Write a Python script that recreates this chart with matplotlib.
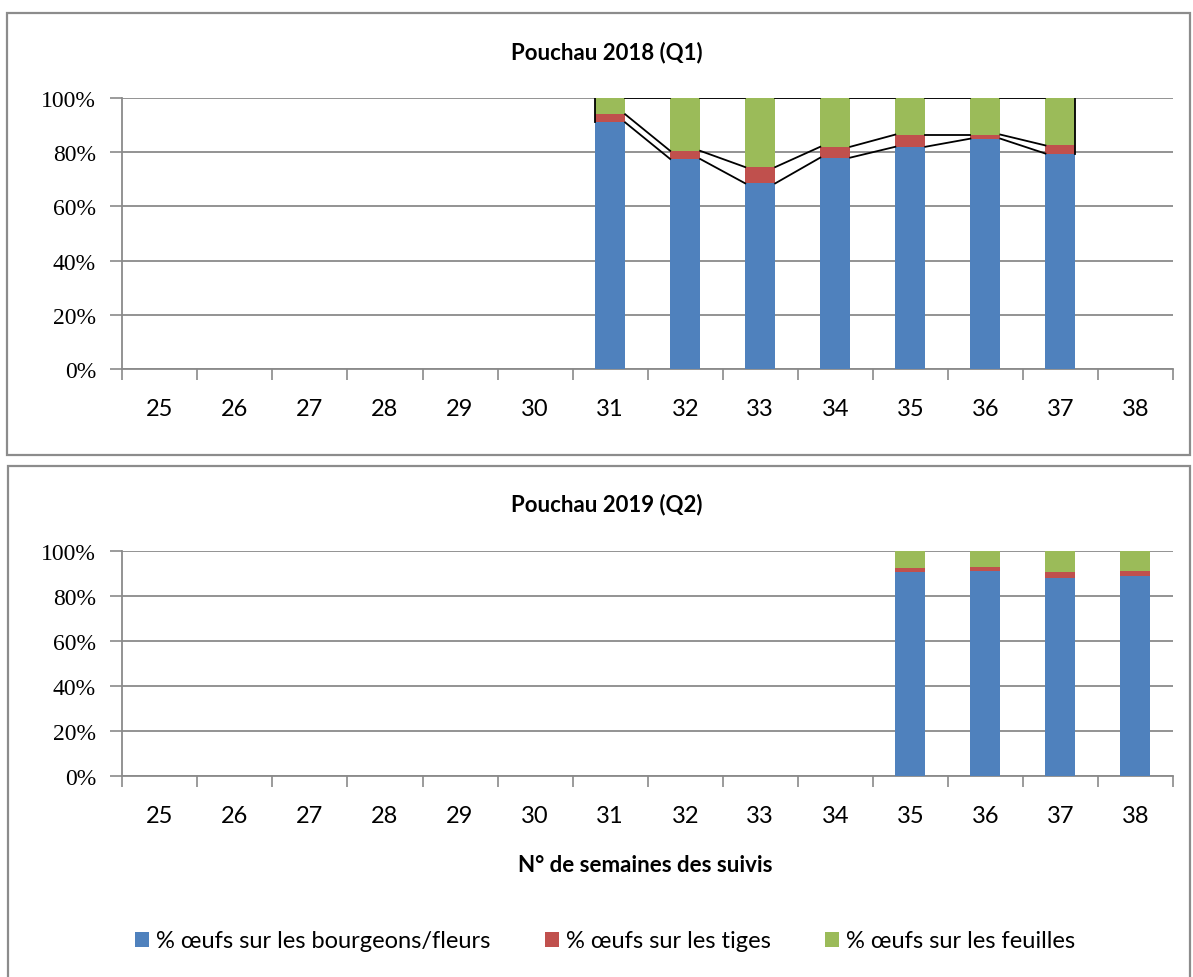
import matplotlib
matplotlib.use("Agg")
import matplotlib.pyplot as plt
from matplotlib.patches import Rectangle
import numpy as np

weeks = [str(w) for w in range(25, 39)]

# Pouchau 2018 (Q1)
bourgeons_2018 = [0, 0, 0, 0, 0, 0, 91, 77.5, 68.5, 78, 82, 85, 79.5, 0]
tiges_2018 = [0, 0, 0, 0, 0, 0, 3, 3, 6, 4, 4.5, 1.5, 3, 0]
feuilles_2018 = [0, 0, 0, 0, 0, 0, 6, 19.5, 25.5, 18, 13.5, 13.5, 17.5, 0]

# Pouchau 2019 (Q2)
bourgeons_2019 = [0, 0, 0, 0, 0, 0, 0, 0, 0, 0, 90.5, 91, 88, 89]
tiges_2019 = [0, 0, 0, 0, 0, 0, 0, 0, 0, 0, 2, 2, 2.5, 2]
feuilles_2019 = [0, 0, 0, 0, 0, 0, 0, 0, 0, 0, 7.5, 7, 9.5, 9]

labels = ["% œufs sur les bourgeons/fleurs", "% œufs sur les tiges", "% œufs sur les feuilles"]
colors = ["#4F81BD", "#C0504D", "#9BBB59"]
grid_col = "#8a8a8a"
W, H = 1193, 978
bw = 0.4


def draw(ax, b, t, f, series_lines):
    x = np.arange(len(weeks))
    b, t, f = np.array(b), np.array(t), np.array(f)
    ax.bar(x, b, bw, color=colors[0], zorder=3, label=labels[0])
    ax.bar(x, t, bw, bottom=b, color=colors[1], zorder=3, label=labels[1])
    ax.bar(x, f, bw, bottom=b + t, color=colors[2], zorder=3, label=labels[2])
    if series_lines:
        tot = b + t + f
        idx = [i for i in x if tot[i] > 0]
        for cum in [b, b + t, tot]:
            for i, j in zip(idx[:-1], idx[1:]):
                ax.plot([i + bw / 2, j - bw / 2], [cum[i], cum[j]], color="black", lw=1.3, zorder=4)
        ax.plot([idx[0] - bw / 2] * 2, [tot[idx[0]], b[idx[0]]], color="black", lw=1.3, zorder=4)
        ax.plot([idx[-1] + bw / 2] * 2, [tot[idx[-1]], b[idx[-1]]], color="black", lw=1.3, zorder=4)
    ax.set_xlim(-0.5, len(weeks) - 0.5)
    ax.set_ylim(0, 100)
    ax.set_yticks(range(0, 101, 20))
    ax.set_yticklabels([f"{v}%" for v in range(0, 101, 20)], family="Liberation Serif", fontsize=17)
    ax.set_xticks(x)
    ax.set_xticklabels(weeks, family="Lato", fontsize=17)
    ax.set_xticks(np.arange(-0.5, len(weeks), 1), minor=True)
    ax.tick_params(axis="x", which="major", length=0, pad=21)
    ax.tick_params(axis="x", which="minor", length=8, width=1.2, color=grid_col, direction="out")
    ax.tick_params(axis="y", length=9, width=1.2, color=grid_col, pad=10)
    ax.yaxis.grid(True, color=grid_col, lw=1.3, zorder=0)
    for s in ["top", "right"]:
        ax.spines[s].set_visible(False)
    for s in ["left", "bottom"]:
        ax.spines[s].set_color(grid_col)
        ax.spines[s].set_linewidth(1.3)


fig = plt.figure(figsize=(W / 100, H / 100), dpi=100)

# chart area frames
fig.add_artist(Rectangle((7 / W, 1 - 456 / H), 1183 / W, 442 / H, transform=fig.transFigure,
                         fill=False, edgecolor="#8c8c8c", lw=1.6))
fig.add_artist(Rectangle((8 / W, 1 - 980 / H), 1182 / W, 513 / H, transform=fig.transFigure,
                         fill=False, edgecolor="#8c8c8c", lw=1.6))

ax1 = fig.add_axes([122.3 / W, 1 - 370 / H, 1050.7 / W, 271 / H])
draw(ax1, bourgeons_2018, tiges_2018, feuilles_2018, True)
ax2 = fig.add_axes([122.3 / W, 1 - 777.3 / H, 1050.7 / W, 225.3 / H])
draw(ax2, bourgeons_2019, tiges_2019, feuilles_2019, False)

fig.text(607 / W, 1 - 53 / H, "Pouchau 2018 (Q1)", ha="center", va="center",
         family="Lato", fontweight="bold", fontsize=16)
fig.text(607 / W, 1 - 505 / H, "Pouchau 2019 (Q2)", ha="center", va="center",
         family="Lato", fontweight="bold", fontsize=16)
fig.text(645 / W, 1 - 865 / H, "N° de semaines des suivis", ha="center", va="center",
         family="Lato", fontweight="bold", fontsize=16)

handles, labs = ax2.get_legend_handles_labels()
fig.legend(handles, labs, ncol=3, loc="center", bbox_to_anchor=(605 / W, 1 - 942 / H),
           frameon=False, prop={"family": "Lato", "size": 17}, handlelength=0.6,
           handleheight=0.6, handletextpad=0.3, columnspacing=2.3)

fig.savefig("out.png", dpi=100)
